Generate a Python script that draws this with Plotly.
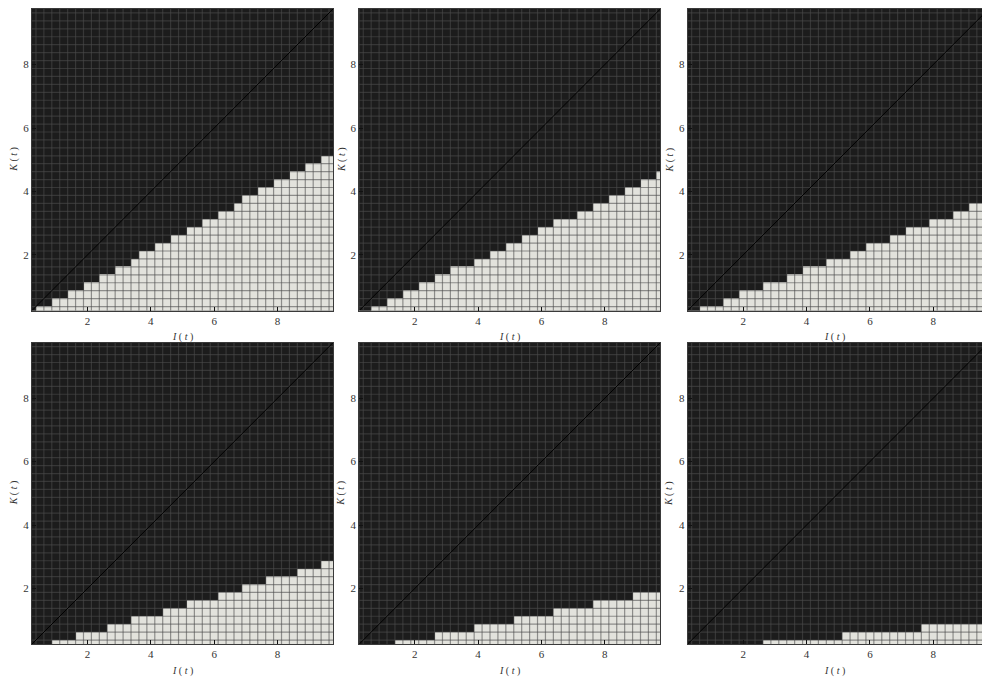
import plotly.graph_objects as go

# Grid coordinates (cell centres) for I(t) and K(t)
GRID = [0.25, 0.5, 0.75, 1.0, 1.25, 1.5, 1.75, 2.0, 2.25, 2.5, 2.75, 3.0, 3.25,
        3.5, 3.75, 4.0, 4.25, 4.5, 4.75, 5.0, 5.25, 5.5, 5.75, 6.0, 6.25, 6.5,
        6.75, 7.0, 7.25, 7.5, 7.75, 8.0, 8.25, 8.5, 8.75, 9.0, 9.25, 9.5, 9.75]

# Number of light cells (from the bottom) in each column, per panel
H1 = [0, 1, 1, 2, 2, 3, 3, 4, 4, 5, 5, 6, 6, 7, 8, 8, 9, 9, 10, 10, 11, 11, 12,
      12, 13, 13, 14, 15, 15, 16, 16, 17, 17, 18, 18, 19, 19, 20, 20]
H2 = [0, 0, 1, 1, 2, 2, 3, 3, 4, 4, 5, 5, 6, 6, 6, 7, 7, 8, 8, 9, 9, 10, 10, 11,
      11, 12, 12, 12, 13, 13, 14, 14, 15, 15, 16, 16, 17, 17, 18]
H3 = [0, 0, 1, 1, 1, 2, 2, 3, 3, 3, 4, 4, 4, 5, 5, 6, 6, 6, 7, 7, 7, 8, 8, 9, 9,
      9, 10, 10, 11, 11, 11, 12, 12, 12, 13, 13, 14, 14, 14]
H4 = [0, 0, 0, 1, 1, 1, 2, 2, 2, 2, 3, 3, 3, 4, 4, 4, 4, 5, 5, 5, 6, 6, 6, 6, 7,
      7, 7, 8, 8, 8, 9, 9, 9, 9, 10, 10, 10, 11, 11]
H5 = [0, 0, 0, 0, 0, 1, 1, 1, 1, 1, 2, 2, 2, 2, 2, 3, 3, 3, 3, 3, 4, 4, 4, 4, 4,
      5, 5, 5, 5, 5, 6, 6, 6, 6, 6, 7, 7, 7, 7]
H6 = [0, 0, 0, 0, 0, 0, 0, 0, 0, 0, 1, 1, 1, 1, 1, 1, 1, 1, 1, 1, 2, 2, 2, 2, 2,
      2, 2, 2, 2, 2, 3, 3, 3, 3, 3, 3, 3, 3, 3]
PANELS = [H1, H2, H3, H4, H5, H6]

TICKS = [2, 4, 6, 8]
X_TITLE = "<i>I</i> ( <i>t</i> )"
Y_TITLE = "<i>K</i> ( <i>t</i> )"

W, H = 982, 677
DARK = "#1c1c1c"
LIGHT = "#e2e2dc"
MESH = "rgba(75,75,75,0.57)"
FONT = "Liberation Serif"

# panel geometry in pixels: (left, right, top, bottom)
COLS = [(32.0, 333.0), (359.3, 660.3), (687.7, 982.0)]
ROWS = [(9.0, 310.5), (342.7, 644.0)]
PX_PER_UNIT = 301.0 / 9.5

fig = go.Figure()
annotations = []
lo = GRID[0]
hi = GRID[-1]
step = GRID[1] - GRID[0]
edges = [g + step / 2 for g in GRID[:-1]]

for p, heights in enumerate(PANELS):
    r, c = divmod(p, 3)
    n = p + 1
    xa = "x" if n == 1 else f"x{n}"
    ya = "y" if n == 1 else f"y{n}"
    z = [[1 if i < heights[j] else 0 for j in range(len(GRID))] for i in range(len(GRID))]
    fig.add_trace(go.Heatmap(
        x=GRID, y=GRID, z=z, zmin=0, zmax=1,
        colorscale=[[0, DARK], [1, LIGHT]], showscale=False,
        xaxis=xa, yaxis=ya, hoverinfo="skip"))
    # mesh lines
    mx, my = [], []
    for e in edges:
        mx += [e, e, None]
        my += [lo - step, hi + step, None]
        mx += [lo - step, hi + step, None]
        my += [e, e, None]
    fig.add_trace(go.Scatter(x=mx, y=my, mode="lines",
                             line=dict(color=MESH, width=1.2),
                             xaxis=xa, yaxis=ya, hoverinfo="skip", showlegend=False))
    # diagonal K = I
    fig.add_trace(go.Scatter(x=[lo, hi], y=[lo, hi], mode="lines",
                             line=dict(color="#000000", width=1),
                             xaxis=xa, yaxis=ya, hoverinfo="skip", showlegend=False))

    left, right = COLS[c]
    top, bottom = ROWS[r]
    xmax = lo + (right - left) / PX_PER_UNIT
    common = dict(showgrid=False, zeroline=False, showline=True, mirror=True,
                  linecolor="#3a3a3a", linewidth=1, ticks="inside", ticklen=4,
                  tickcolor="#111111", tickwidth=1, tickvals=TICKS,
                  tickfont=dict(family=FONT, size=11, color="#333333"))
    fig.layout[("xaxis" if n == 1 else f"xaxis{n}")] = dict(
        domain=[left / W, right / W], anchor=ya, range=[lo, min(xmax, hi)], **common)
    fig.layout[("yaxis" if n == 1 else f"yaxis{n}")] = dict(
        domain=[1 - bottom / H, 1 - top / H], anchor=xa, range=[lo, hi], **common)

    annotations.append(dict(text=X_TITLE, xref="paper", yref="paper",
                            x=(left + min(right, left + 301)) / 2 / W,
                            y=1 - (bottom + 26.5) / H,
                            showarrow=False, xanchor="center", yanchor="middle",
                            font=dict(family=FONT, size=10, color="#333333")))
    annotations.append(dict(text=Y_TITLE, xref="paper", yref="paper",
                            x=(left - 18) / W, y=1 - (top + bottom) / 2 / H,
                            textangle=-90, showarrow=False,
                            xanchor="center", yanchor="middle",
                            font=dict(family=FONT, size=10, color="#333333")))

fig.update_layout(width=W, height=H, margin=dict(l=0, r=0, t=0, b=0),
                  paper_bgcolor="white", plot_bgcolor=DARK,
                  showlegend=False, annotations=annotations)

fig.write_html("out.html",
               config={"displayModeBar": False},
               post_script="document.body.style.margin='0';"
                           "document.body.style.overflow='hidden';")
